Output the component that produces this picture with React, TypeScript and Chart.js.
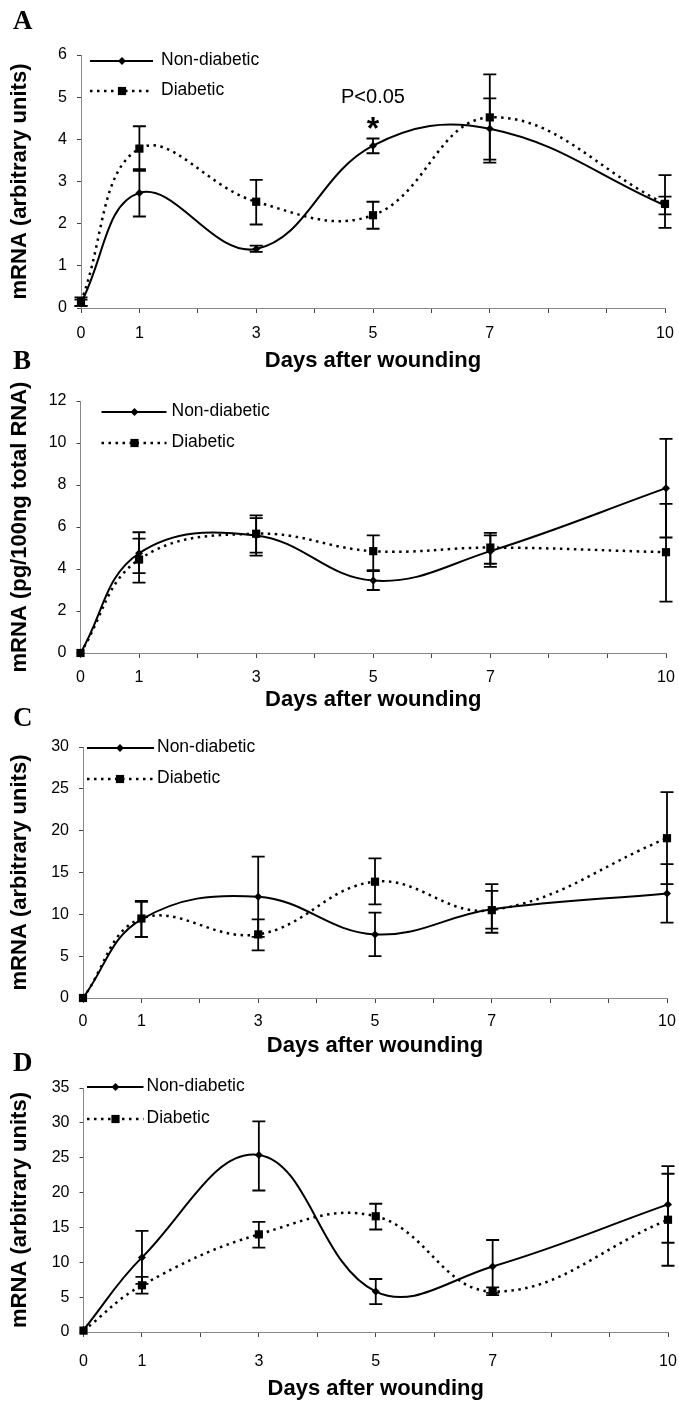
import React, { useEffect, useRef } from 'react';
import { Chart, registerables } from 'chart.js';

Chart.register(...registerables);

const W = 679;
const H = 1402;
const SANS = '"Liberation Sans", Arial, Helvetica, sans-serif';
const SERIF = '"Liberation Serif", "Times New Roman", serif';

// ---------- data ----------
const days = [0, 1, 3, 5, 7, 10];
const labeledDays = [0, 1, 3, 5, 7, 10];
const seriesLabels = ['Non-diabetic', 'Diabetic'];
const xAxisTitle = 'Days after wounding';

// Panel A
const aNonDiabetic = [0.12, 2.73, 1.4, 3.85, 4.25, 2.43];
const aNonDiabeticLow = [0.05, 2.17, 1.33, 3.67, 3.52, 2.22];
const aNonDiabeticHigh = [0.2, 3.29, 1.48, 4.02, 4.97, 2.64];
const aDiabetic = [0.15, 3.78, 2.52, 2.2, 4.52, 2.47];
const aDiabeticLow = [0.05, 3.25, 1.98, 1.88, 3.45, 1.9];
const aDiabeticHigh = [0.25, 4.31, 3.04, 2.52, 5.54, 3.15];

// Panel B
const bNonDiabetic = [0, 4.75, 5.6, 3.45, 4.85, 7.85];
const bNonDiabeticLow = [0, 3.8, 4.78, 3.0, 4.1, 5.5];
const bNonDiabeticHigh = [0, 5.75, 6.42, 3.9, 5.6, 10.2];
const bDiabetic = [0, 4.45, 5.68, 4.85, 5.02, 4.8];
const bDiabeticLow = [0, 3.35, 4.64, 3.95, 4.25, 2.45];
const bDiabeticHigh = [0, 5.45, 6.55, 5.6, 5.72, 7.1];

// Panel C
const cNonDiabetic = [0, 9.4, 12.1, 7.6, 10.6, 12.5];
const cNonDiabeticLow = [0, 7.3, 7.3, 5.0, 7.8, 9.0];
const cNonDiabeticHigh = [0, 11.5, 16.9, 10.2, 13.6, 16.0];
const cDiabetic = [0, 9.5, 7.6, 13.9, 10.5, 19.1];
const cDiabeticLow = [0, 7.3, 5.7, 11.2, 8.3, 13.6];
const cDiabeticHigh = [0, 11.6, 9.4, 16.7, 12.8, 24.6];

// Panel D
const dNonDiabetic = [0.3, 10.7, 25.4, 5.8, 9.4, 18.3];
const dNonDiabeticLow = [0.3, 6.9, 20.3, 4.0, 5.6, 12.8];
const dNonDiabeticHigh = [0.3, 14.5, 30.2, 7.6, 13.2, 23.8];
const dDiabetic = [0.2, 6.7, 14.0, 16.6, 5.8, 16.1];
const dDiabeticLow = [0.2, 5.5, 12.1, 14.7, 5.3, 9.5];
const dDiabeticHigh = [0.2, 7.9, 15.8, 18.4, 6.4, 22.7];

const yMaxes = [6, 12, 30, 35];
const yStepSizes = [1, 2, 5, 5];
const yTitles = [
  'mRNA (arbitrary units)',
  'mRNA (pg/100ng total RNA)',
  'mRNA (arbitrary units)',
  'mRNA (arbitrary units)',
];
const panelLetters = ['A', 'B', 'C', 'D'];
const significanceLabel = 'P<0.05';
const significanceMark = '*';

// ---------- layout (not data) ----------
type Layout = {
  left: number; right: number; top: number; bottom: number;
  xAxisH: number; xLabelPad: number; xTitlePad: number;
  legend: { x1: number; x2: number; mx: number; tx: number; y1: number; y2: number };
  letterTop: number;
};

const layouts: Layout[] = [
  { left: 81, right: 665, top: 55, bottom: 308, xAxisH: 75, xLabelPad: 11, xTitlePad: 9,
    legend: { x1: 9, x2: 72, mx: 41, tx: 80, y1: 6, y2: 36 }, letterTop: 7 },
  { left: 80.5, right: 666, top: 401, bottom: 653, xAxisH: 75, xLabelPad: 10, xTitlePad: 15,
    legend: { x1: 21, x2: 86, mx: 54, tx: 91, y1: 11, y2: 42 }, letterTop: 347 },
  { left: 83, right: 667, top: 747, bottom: 998, xAxisH: 75, xLabelPad: 9, xTitlePad: 14,
    legend: { x1: 4, x2: 71, mx: 37, tx: 74, y1: 1, y2: 32 }, letterTop: 704 },
  { left: 83.5, right: 668, top: 1088, bottom: 1332, xAxisH: 70, xLabelPad: 15, xTitlePad: 0,
    legend: { x1: 3.5, x2: 60, mx: 32, tx: 63, y1: -1, y2: 31 }, letterTop: 1049 },
];

const panelSeries = [
  { nd: aNonDiabetic, ndLo: aNonDiabeticLow, ndHi: aNonDiabeticHigh, d: aDiabetic, dLo: aDiabeticLow, dHi: aDiabeticHigh },
  { nd: bNonDiabetic, ndLo: bNonDiabeticLow, ndHi: bNonDiabeticHigh, d: bDiabetic, dLo: bDiabeticLow, dHi: bDiabeticHigh },
  { nd: cNonDiabetic, ndLo: cNonDiabeticLow, ndHi: cNonDiabeticHigh, d: cDiabetic, dLo: cDiabeticLow, dHi: cDiabeticHigh },
  { nd: dNonDiabetic, ndLo: dNonDiabeticLow, ndHi: dNonDiabeticHigh, d: dDiabetic, dLo: dDiabeticLow, dHi: dDiabeticHigh },
];

const DOT_DASH = [2.5, 4.5];
const CAP = 6.5;
const Y_BOX_LEFT = 2;
const TITLE_SIZE = 22;

const errorBarPlugin = {
  id: 'errorBars',
  afterDatasetsDraw(chart: any) {
    const { ctx } = chart;
    const xs = chart.scales.x;
    const ys = chart.scales.y;
    ctx.save();
    ctx.strokeStyle = '#000';
    ctx.lineWidth = 1.8;
    ctx.setLineDash([]);
    chart.data.datasets.forEach((ds: any) => {
      const lo = ds.errLow;
      const hi = ds.errHigh;
      ds.data.forEach((pt: any, j: number) => {
        if (!(hi[j] - lo[j] > 0)) return;
        const px = xs.getPixelForValue(pt.x);
        const yl = ys.getPixelForValue(lo[j]);
        const yh = ys.getPixelForValue(hi[j]);
        ctx.beginPath();
        ctx.moveTo(px, yl); ctx.lineTo(px, yh);
        ctx.moveTo(px - CAP, yl); ctx.lineTo(px + CAP, yl);
        ctx.moveTo(px - CAP, yh); ctx.lineTo(px + CAP, yh);
        ctx.stroke();
      });
    });
    ctx.restore();
  },
};

function makeLegendPlugin(lay: Layout) {
  return {
    id: 'insideLegend',
    afterDraw(chart: any) {
      const { ctx, chartArea } = chart;
      const L = lay.legend;
      const x1 = chartArea.left + L.x1;
      const x2 = chartArea.left + L.x2;
      const mx = chartArea.left + L.mx;
      const tx = chartArea.left + L.tx;
      const ys = [chartArea.top + L.y1, chartArea.top + L.y2];
      ctx.save();
      chart.data.datasets.forEach((ds: any, i: number) => {
        const y = ys[i];
        ctx.strokeStyle = '#000';
        ctx.lineWidth = ds.borderWidth;
        ctx.setLineDash(ds.borderDash || []);
        ctx.beginPath();
        ctx.moveTo(x1, y);
        ctx.lineTo(x2, y);
        ctx.stroke();
        ctx.setLineDash([]);
        ctx.fillStyle = '#000';
        ctx.beginPath();
        if (ds.pointStyle === 'rectRot') {
          const r = ds.pointRadius;
          ctx.moveTo(mx, y - r); ctx.lineTo(mx + r, y); ctx.lineTo(mx, y + r); ctx.lineTo(mx - r, y);
        } else {
          const s = ds.pointRadius * Math.SQRT1_2;
          ctx.rect(mx - s, y - s, 2 * s, 2 * s);
        }
        ctx.closePath();
        ctx.fill();
        ctx.font = '17.5px ' + SANS;
        ctx.textBaseline = 'middle';
        ctx.textAlign = 'left';
        ctx.fillText(ds.label, tx, y - 1);
      });
      ctx.restore();
    },
  };
}

const significancePlugin = {
  id: 'significance',
  afterDraw(chart: any) {
    const { ctx } = chart;
    const xs = chart.scales.x;
    const ys = chart.scales.y;
    const px = xs.getPixelForValue(days[3]);
    ctx.save();
    ctx.fillStyle = '#000';
    ctx.textAlign = 'center';
    ctx.textBaseline = 'middle';
    ctx.font = '20px ' + SANS;
    ctx.fillText(significanceLabel, px, ys.getPixelForValue(5.0));
    ctx.font = 'bold 32px ' + SANS;
    ctx.textBaseline = 'alphabetic';
    ctx.fillText(significanceMark, px, ys.getPixelForValue(4.45) + 0.58 * 32);
    ctx.restore();
  },
};

function PanelChart({ idx }: { idx: number }) {
  const ref = useRef<HTMLCanvasElement | null>(null);
  useEffect(() => {
    const canvas = ref.current;
    if (!canvas) return;
    const lay = layouts[idx];
    const s = panelSeries[idx];
    const yW = lay.left - Y_BOX_LEFT;
    const plugins: any[] = [errorBarPlugin, makeLegendPlugin(lay)];
    if (idx === 0) plugins.push(significancePlugin);
    const chart = new Chart(canvas, {
      type: 'line',
      data: {
        datasets: [
          {
            label: seriesLabels[0],
            data: days.map((d, i) => ({ x: d, y: s.nd[i] })),
            errLow: s.ndLo,
            errHigh: s.ndHi,
            borderColor: '#000',
            backgroundColor: '#000',
            borderWidth: 2,
            tension: 0.4,
            pointStyle: 'rectRot',
            pointRadius: 4,
            pointBorderWidth: 0,
            pointBackgroundColor: '#000',
            clip: false,
          } as any,
          {
            label: seriesLabels[1],
            data: days.map((d, i) => ({ x: d, y: s.d[i] })),
            errLow: s.dLo,
            errHigh: s.dHi,
            borderColor: '#000',
            backgroundColor: '#000',
            borderWidth: 2.5,
            borderDash: DOT_DASH,
            tension: 0.4,
            pointStyle: 'rect',
            pointRadius: 5.8,
            pointBorderWidth: 0,
            pointBackgroundColor: '#000',
            clip: false,
          } as any,
        ],
      },
      options: {
        responsive: false,
        animation: false,
        events: [],
        layout: {
          padding: {
            left: Y_BOX_LEFT,
            right: W - lay.right,
            top: lay.top,
            bottom: H - lay.bottom - lay.xAxisH,
          },
        },
        plugins: {
          legend: { display: false },
          tooltip: { enabled: false },
        },
        scales: {
          x: {
            type: 'linear',
            min: 0,
            max: 10,
            afterFit: (sc: any) => {
              sc.height = lay.xAxisH;
              sc.paddingLeft = 0;
              sc.paddingRight = 0;
            },
            border: { display: true, color: '#888', width: 1 },
            grid: { drawOnChartArea: false, drawTicks: true, tickLength: 5, color: '#444', lineWidth: 1 },
            ticks: {
              stepSize: 1,
              autoSkip: false,
              maxRotation: 0,
              padding: lay.xLabelPad,
              color: '#000',
              font: { family: SANS, size: 16 },
              callback: (v: any) => (labeledDays.includes(Number(v)) ? String(v) : ''),
            },
            title: {
              display: true,
              text: xAxisTitle,
              color: '#000',
              font: { family: SANS, size: TITLE_SIZE, weight: 'bold' },
              padding: { top: 0, bottom: lay.xTitlePad },
            },
          },
          y: {
            type: 'linear',
            min: 0,
            max: yMaxes[idx],
            afterFit: (sc: any) => {
              sc.width = yW;
              sc.paddingTop = 0;
              sc.paddingBottom = 0;
            },
            border: { display: true, color: '#888', width: 1 },
            grid: { drawOnChartArea: false, drawTicks: true, tickLength: 4, color: '#444', lineWidth: 1 },
            ticks: {
              stepSize: yStepSizes[idx],
              padding: 10,
              color: '#000',
              font: { family: SANS, size: 16 },
            },
            title: {
              display: true,
              text: yTitles[idx],
              color: '#000',
              font: { family: SANS, size: TITLE_SIZE, weight: 'bold' },
              padding: { top: 5, bottom: 0 },
            },
          },
        },
      } as any,
      plugins,
    });
    return () => chart.destroy();
  }, [idx]);
  return (
    <canvas
      ref={ref}
      width={W}
      height={H}
      style={{ position: 'absolute', left: 0, top: 0, width: W, height: H }}
    />
  );
}

export default function App() {
  return (
    <div style={{ position: 'absolute', left: 0, top: 0, width: W, height: H, background: '#fff', overflow: 'hidden' }}>
      {layouts.map((_, i) => (
        <PanelChart key={'chart' + i} idx={i} />
      ))}
      {layouts.map((lay, i) => (
        <div
          key={'letter' + i}
          style={{
            position: 'absolute',
            left: 13,
            top: lay.letterTop,
            font: 'bold 27px ' + SERIF,
            lineHeight: '27px',
            color: '#000',
          }}
        >
          {panelLetters[i]}
        </div>
      ))}
    </div>
  );
}
